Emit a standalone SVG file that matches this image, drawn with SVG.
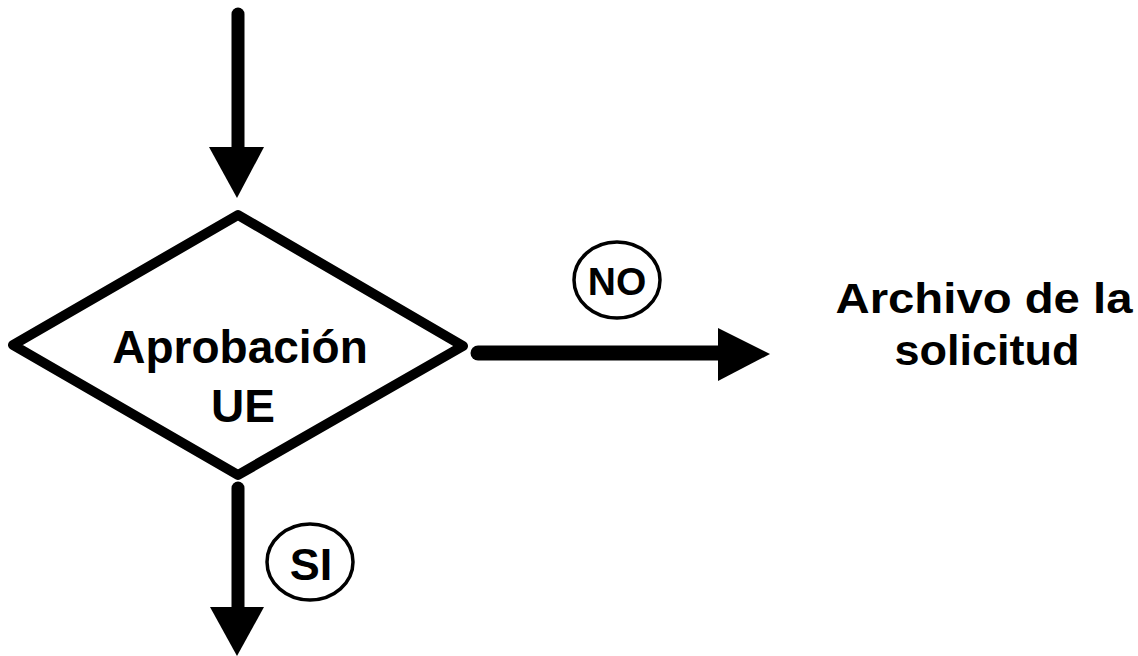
<svg xmlns="http://www.w3.org/2000/svg" width="1138" height="656" viewBox="0 0 1138 656">
<style>
text{font-family:"Liberation Sans",Arial,sans-serif;font-weight:bold;fill:#000}
.shaft{stroke:#000;stroke-width:13;stroke-linecap:round;fill:none}
.head{fill:#000}
.ring{fill:none;stroke:#000;stroke-width:3.5}
</style>
<rect width="1138" height="656" fill="#fff"/>
<g id="connectors">
<line class="shaft" x1="238" y1="14" x2="238" y2="150"/>
<polygon class="head" points="209,147 264,147 237,198"/>
<line class="shaft" x1="238" y1="488" x2="238" y2="610"/>
<polygon class="head" points="210,607 264,607 237,656"/>
<line class="shaft" x1="478" y1="353" x2="722" y2="353" style="stroke-width:15"/>
<polygon class="head" points="718,328 718,381 770,354"/>
</g>
<g id="decision">
<polygon points="13,345 238,215 463,346 238,475" fill="#fff" stroke="#000" stroke-width="10" stroke-linejoin="round"/>
<text x="240" y="363" font-size="46" text-anchor="middle">Aprobación</text>
<text x="243" y="422" font-size="46" text-anchor="middle">UE</text>
</g>
<g id="label-no">
<ellipse class="ring" cx="617" cy="280" rx="43" ry="38"/>
<text x="617" y="295" font-size="39" text-anchor="middle">NO</text>
</g>
<g id="label-si">
<ellipse class="ring" cx="310" cy="562" rx="43" ry="38"/>
<text x="311" y="580" font-size="45" text-anchor="middle">SI</text>
</g>
<g id="archivo">
<text x="984" y="313" font-size="43" text-anchor="middle" textLength="297" lengthAdjust="spacingAndGlyphs">Archivo de la</text>
<text x="987" y="365" font-size="43" text-anchor="middle" textLength="185" lengthAdjust="spacingAndGlyphs">solicitud</text>
</g>
</svg>
